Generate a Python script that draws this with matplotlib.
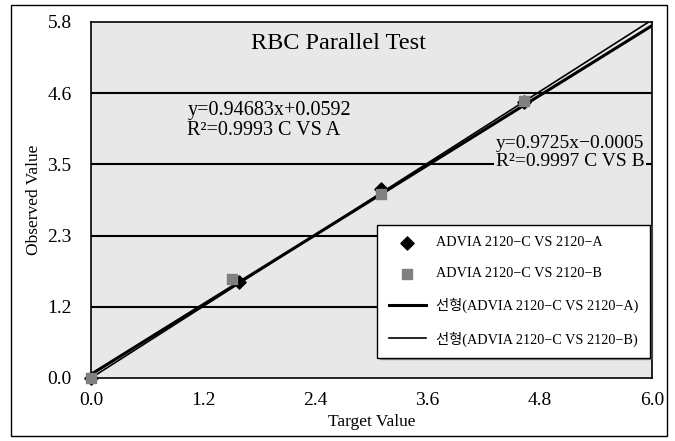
import numpy as np
import matplotlib.pyplot as plt
from matplotlib.patches import Rectangle

plt.rcParams['font.family'] = ['Liberation Serif', 'Noto Sans CJK KR']

# data
target_a = [0.0, 1.58, 3.10, 4.63]
observed_a = [0.0, 1.57, 3.08, 4.50]
target_b = [0.0, 1.51, 3.10, 4.63]
observed_b = [0.0, 1.61, 3.00, 4.51]
fit_a = (0.94683, 0.0592)
fit_b = (0.9725, -0.0005)
x_ticks = [0.0, 1.2, 2.4, 3.6, 4.8, 6.0]
y_tick_labels = ['0.0', '1.2', '2.3', '3.5', '4.6', '5.8']

fig = plt.figure(figsize=(6.75, 4.41), dpi=100)
fig.patches.append(Rectangle((11/675, 5/441), 656/675, 431/441, transform=fig.transFigure,
                             fill=False, edgecolor='black', lw=1.0))
ax = fig.add_axes([91/675, 63/441, 561/675, 356/441])
ax.set_facecolor('#e8e8e8')

yt = np.linspace(0, 5.8, 6)
for y in yt[1:-1]:
    ax.axhline(y, color='black', lw=1.5, zorder=1)

xx = np.array([0, 6.0])
ax.plot(xx, fit_a[0]*xx + fit_a[1], color='black', lw=2.2, zorder=2,
        label='선형(ADVIA 2120\u2212C VS 2120\u2212A)')
ax.plot(xx, fit_b[0]*xx + fit_b[1], color='black', lw=1.2, zorder=2,
        label='선형(ADVIA 2120\u2212C VS 2120\u2212B)')
ax.scatter(target_a, observed_a, marker='D', s=45, color='black', zorder=3,
           label='ADVIA 2120\u2212C VS 2120\u2212A', clip_on=False)
ax.scatter(target_b, observed_b, marker='s', s=55, color='#808080', zorder=4,
           label='ADVIA 2120\u2212C VS 2120\u2212B', clip_on=False)

ax.set_xlim(0, 6)
ax.set_ylim(0, 5.8)
ax.set_xticks(x_ticks)
ax.set_xticklabels(['%.1f' % v for v in x_ticks])
ax.set_yticks(yt)
ax.set_yticklabels(y_tick_labels)
ax.tick_params(axis='y', length=0, labelsize=14, pad=14)
ax.tick_params(axis='x', length=0, labelsize=14, pad=10)
for s in ax.spines.values():
    s.set_color('black')
    s.set_linewidth(1.2)
ax.set_xlabel('Target Value', fontsize=12.5, labelpad=4)
ax.set_ylabel('Observed Value', fontsize=12.5)
ax.yaxis.set_label_coords(-0.087, 0.5)

ax.text(2.65, 5.45, 'RBC Parallel Test', fontsize=17.5, ha='center', va='center')
ax.text(1.03, 4.20, 'y=0.94683x+0.0592\nR\u00b2=0.9993 C VS A', fontsize=14.5,
        ha='left', va='center', linespacing=1.05, zorder=5,
        bbox=dict(facecolor='#e8e8e8', edgecolor='none', pad=1))
ax.text(4.33, 3.67, 'y=0.9725x\u22120.0005\nR\u00b2=0.9997 C VS B', fontsize=14,
        ha='left', va='center', linespacing=1.05, zorder=5,
        bbox=dict(facecolor='#e8e8e8', edgecolor='none', pad=1))

h, l = ax.get_legend_handles_labels()
order = [2, 3, 0, 1]
leg = ax.legend([h[i] for i in order], [l[i] for i in order], loc='upper left',
                bbox_to_anchor=(0.51, 0.43), fontsize=10.3, frameon=True, fancybox=False,
                shadow={'ox': 2, 'oy': -1, 'color': '#555555'}, edgecolor='black',
                framealpha=1, labelspacing=1.25, borderpad=0.8, handlelength=2.6,
                handletextpad=0.7, borderaxespad=0)
leg.set_zorder(6)

fig.savefig('out.png', dpi=100)
